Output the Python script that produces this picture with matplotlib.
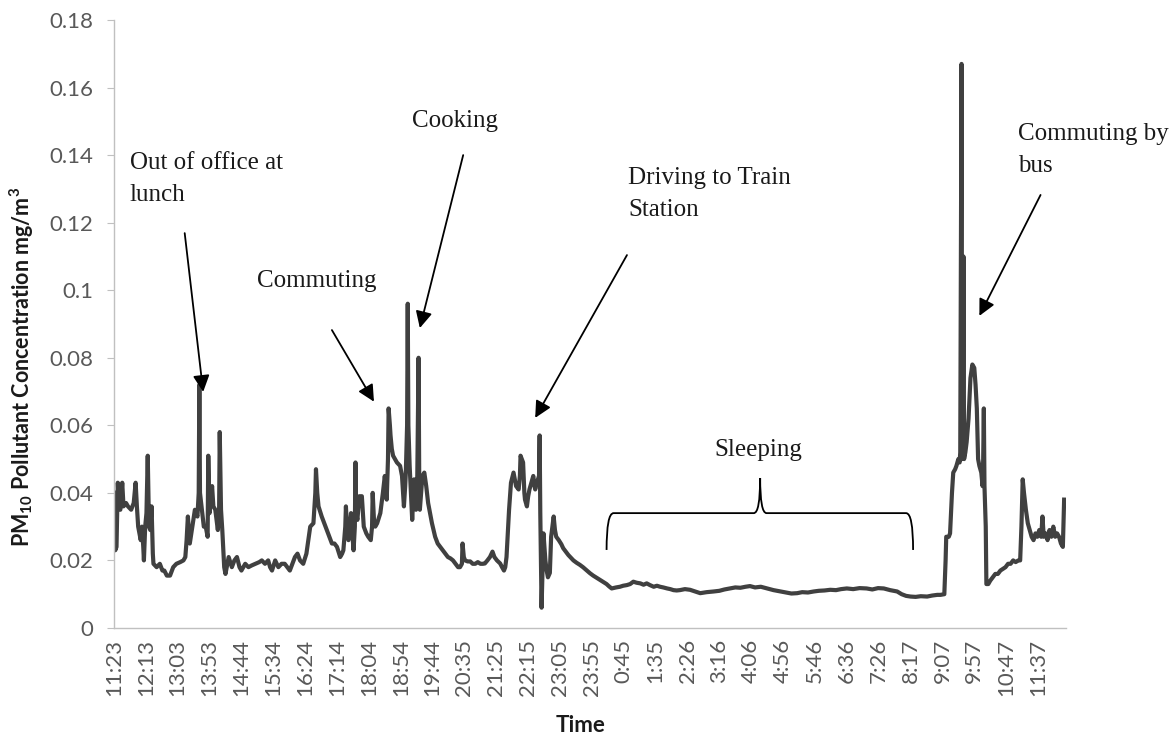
import matplotlib
matplotlib.use("Agg")
import matplotlib.pyplot as plt
from matplotlib.path import Path
from matplotlib.patches import PathPatch

# sample index (one reading ~ every minute from 11:23) and PM10 readings in mg/m3
minute_idx = [
    0, 2, 4, 6, 8, 10, 13, 15, 19, 22, 27, 31, 34, 36, 38, 42, 44, 46, 47, 49,
    51, 53, 55, 57, 59, 61, 62, 67, 72, 76, 79, 83, 88, 93, 98, 104, 109, 112, 114, 116,
    119, 123, 127, 131, 133, 134, 135, 138, 141, 144, 147, 148, 150, 154, 156, 159, 163, 165, 166, 168,
    170, 173, 175, 180, 185, 189, 193, 197, 200, 206, 211, 216, 222, 228, 232, 237, 242, 245, 248, 253,
    258, 263, 268, 272, 276, 280, 284, 288, 292, 297,
    302, 305, 308, 313, 316, 317, 319, 321, 326, 330, 334, 338, 342, 346, 350, 355, 358, 360, 363, 364,
    366, 368, 370, 372, 374, 376, 378, 379, 380, 382, 385, 389, 392, 396, 399, 403, 405, 406, 408, 410,
    413, 418, 422, 425, 428, 430, 431, 433, 434, 436, 438, 444, 449, 452, 455, 457, 458, 460, 461, 462,
    464, 466, 468, 470, 471, 473, 474, 476, 478, 479, 480, 482, 484, 487, 490, 493, 496, 499, 504, 508,
    512, 516, 520, 524, 528, 532, 536, 540, 543, 546, 547, 549, 551, 555, 559, 563, 567, 571, 575, 579,
    582, 586, 590, 594, 597, 601, 606, 609, 612, 614, 616, 618, 620, 623, 627, 629, 631, 635, 637, 638,
    640, 642, 644, 645, 648, 650, 652, 656, 658, 660, 661, 665, 667, 668, 669, 671, 674, 677, 679, 681,
    684, 686, 690, 692, 694, 698, 702, 705, 709, 713, 717, 721, 726, 731, 736, 742, 747, 752, 758, 763,
    768, 773, 777, 781, 788, 794, 799, 805, 810, 815, 820, 826, 831, 836, 841, 847, 852, 857, 862, 868,
    873, 878, 883, 888,
    896, 904, 912, 920, 930, 941, 950, 958, 967, 975, 983, 991, 998, 1006, 1015, 1025, 1035, 1046, 1055, 1063,
    1072, 1080, 1089, 1098, 1106, 1115, 1124, 1133, 1141, 1150, 1160, 1170, 1181, 1190, 1199, 1208, 1218, 1229, 1236, 1243,
    1250, 1258, 1266, 1276, 1284, 1292,
    1297, 1303, 1305, 1306, 1310, 1312, 1315, 1317, 1320, 1322, 1325, 1327, 1328, 1329, 1330, 1331, 1332, 1333, 1334, 1336,
    1338, 1341, 1344, 1347, 1350, 1352, 1354, 1356, 1358, 1361, 1363, 1364, 1365, 1366, 1368, 1369, 1372, 1375, 1379, 1383,
    1387, 1391, 1395, 1399, 1403, 1407, 1411, 1415, 1419, 1422, 1424, 1426, 1428, 1431, 1434, 1437, 1440, 1443, 1446, 1449,
    1452, 1455, 1457, 1459, 1462, 1465, 1468, 1471, 1474, 1477, 1480, 1483, 1486, 1489, 1491,
]

pm10 = [
    0.040, 0.023, 0.024, 0.043, 0.036, 0.035, 0.043, 0.036, 0.037, 0.036, 0.035, 0.037, 0.043, 0.036, 0.030, 0.026, 0.030, 0.024, 0.020, 0.030,
    0.034, 0.051, 0.030, 0.029, 0.036, 0.022, 0.019, 0.018, 0.019, 0.017, 0.017, 0.0155, 0.0155, 0.018, 0.019, 0.0195, 0.020, 0.021, 0.026, 0.033,
    0.025, 0.030, 0.035, 0.033, 0.040, 0.072, 0.040, 0.035, 0.030, 0.030, 0.027, 0.051, 0.034, 0.042, 0.036, 0.035, 0.029, 0.035, 0.058, 0.035,
    0.029, 0.018, 0.016, 0.021, 0.018, 0.020, 0.021, 0.018, 0.017, 0.019, 0.018, 0.0185, 0.019, 0.0195, 0.020, 0.019, 0.020, 0.018, 0.017, 0.020,
    0.018, 0.019, 0.019, 0.018, 0.017, 0.019, 0.021, 0.022, 0.020, 0.019,
    0.022, 0.026, 0.030, 0.031, 0.040, 0.047, 0.040, 0.036, 0.033, 0.031, 0.029, 0.027, 0.025, 0.025, 0.024, 0.021, 0.022, 0.023, 0.030, 0.036,
    0.028, 0.026, 0.030, 0.034, 0.028, 0.023, 0.030, 0.049, 0.034, 0.032, 0.039, 0.039, 0.030, 0.028, 0.027, 0.026, 0.030, 0.040, 0.032, 0.030,
    0.031, 0.034, 0.040, 0.045, 0.038, 0.050, 0.065, 0.060, 0.057, 0.053, 0.051, 0.049, 0.048, 0.045, 0.036, 0.042, 0.046, 0.060, 0.096, 0.060,
    0.048, 0.040, 0.032, 0.040, 0.044, 0.040, 0.035, 0.045, 0.080, 0.045, 0.035, 0.040, 0.045, 0.046, 0.042, 0.037, 0.034, 0.031, 0.027, 0.025,
    0.024, 0.023, 0.022, 0.021, 0.0206, 0.020, 0.019, 0.018, 0.018, 0.019, 0.025, 0.021, 0.020, 0.0197, 0.0197, 0.019, 0.019, 0.0195, 0.019, 0.019,
    0.0191, 0.020, 0.021, 0.0226, 0.021, 0.020, 0.0191, 0.018, 0.017, 0.018, 0.021, 0.028, 0.035, 0.043, 0.046, 0.044, 0.042, 0.041, 0.045, 0.051,
    0.050, 0.049, 0.040, 0.038, 0.036, 0.039, 0.041, 0.0437, 0.045, 0.042, 0.041, 0.0438, 0.045, 0.057, 0.034, 0.006, 0.028, 0.020, 0.017, 0.015,
    0.0163, 0.027, 0.033, 0.029, 0.027, 0.026, 0.0248, 0.0236, 0.0226, 0.0216, 0.0208, 0.020, 0.0193, 0.0187, 0.018, 0.017, 0.0162, 0.0155, 0.0148, 0.0142,
    0.0136, 0.013, 0.0123, 0.0117, 0.012, 0.0122, 0.0125, 0.0127, 0.013, 0.0137, 0.0134, 0.0132, 0.0128, 0.0132, 0.0127, 0.0122, 0.0125, 0.0122, 0.012, 0.0117,
    0.0115, 0.0112, 0.0111, 0.0112,
    0.0115, 0.0113, 0.0108, 0.0103, 0.0106, 0.0108, 0.011, 0.0114, 0.0117, 0.012, 0.0119, 0.0122, 0.0124, 0.012, 0.0122, 0.0117, 0.0112, 0.0108, 0.0105, 0.0102,
    0.0103, 0.0106, 0.0105, 0.0108, 0.011, 0.0111, 0.0113, 0.0112, 0.0115, 0.0117, 0.0115, 0.0118, 0.0117, 0.0114, 0.0118, 0.0117, 0.0112, 0.0108, 0.010, 0.0095,
    0.0093, 0.0092, 0.0094, 0.0093, 0.0096, 0.0098,
    0.0098, 0.010, 0.020, 0.027, 0.027, 0.028, 0.040, 0.046, 0.047, 0.048, 0.050, 0.049, 0.052, 0.110, 0.167, 0.050, 0.060, 0.110, 0.050, 0.052,
    0.055, 0.062, 0.074, 0.078, 0.077, 0.072, 0.065, 0.050, 0.048, 0.046, 0.042, 0.050, 0.065, 0.042, 0.030, 0.013, 0.013, 0.014, 0.015, 0.016,
    0.016, 0.017, 0.0175, 0.018, 0.019, 0.019, 0.020, 0.0195, 0.020, 0.020, 0.030, 0.044, 0.040, 0.035, 0.031, 0.029, 0.027, 0.026, 0.028, 0.027,
    0.029, 0.027, 0.033, 0.027, 0.028, 0.026, 0.029, 0.027, 0.030, 0.027, 0.028, 0.027, 0.025, 0.024, 0.038,
]

tick_labels = [
    "11:23", "12:13", "13:03", "13:53", "14:44", "15:34", "16:24", "17:14", "18:04", "18:54",
    "19:44", "20:35", "21:25", "22:15", "23:05", "23:55", "0:45", "1:35", "2:26", "3:16",
    "4:06", "4:56", "5:46", "6:36", "7:26", "8:17", "9:07", "9:57", "10:47", "11:37",
]
tick_pos = [50 * i for i in range(len(tick_labels))]
y_ticks = [0, 0.02, 0.04, 0.06, 0.08, 0.1, 0.12, 0.14, 0.16, 0.18]

plt.rcParams["font.family"] = ["Lato", "DejaVu Sans"]
plt.rcParams["mathtext.fontset"] = "custom"
plt.rcParams["mathtext.rm"] = "Lato:bold"

fig = plt.figure(figsize=(11.76, 7.38), dpi=100)
ax = fig.add_axes([0.0969, 0.1491, 0.8096, 0.8238])

ax.plot(minute_idx, pm10, color="#404040", lw=3.0, solid_joinstyle="round")

ax.set_xlim(0, 1494)
ax.set_ylim(0, 0.18)
ax.set_yticks(y_ticks)
ax.set_yticklabels([f"{v:g}" for v in y_ticks])
ax.set_xticks(tick_pos)
ax.set_xticklabels(tick_labels, rotation=90)

for side in ("top", "right"):
    ax.spines[side].set_visible(False)
for side in ("left", "bottom"):
    ax.spines[side].set_color("#c0c0c0")
    ax.spines[side].set_linewidth(1.0)
ax.tick_params(axis="y", length=5, color="#c0c0c0", labelsize=16, labelcolor="#595959", pad=10)
ax.tick_params(axis="x", length=0, labelsize=16, labelcolor="#595959", pad=8)

fig.text(0.019, 0.503, r"PM$_{10}$ Pollutant Concentration mg/m$^{3}$", rotation=90,
         ha="center", va="center", fontsize=15.5, fontweight="bold", color="#1a1a1a")
fig.text(0.494, 0.0176, "Time", ha="center", va="center", fontsize=16, fontweight="bold", color="#1a1a1a")

# annotations (serif, like the original)
serif = "Liberation Serif"
arrow = dict(arrowstyle="-|>,head_length=0.5,head_width=0.25", mutation_scale=20,
             lw=1.3, color="black", shrinkA=0, shrinkB=0)
notes = [
    ("Out of office at\nlunch", (25, 0.1329), (111, 0.1169), (140, 0.0699)),
    ("Commuting", (225, 0.1027), (342, 0.0882), (408, 0.0670)),
    ("Cooking", (468, 0.1501), (548, 0.1400), (480, 0.0888)),
    ("Driving to Train\nStation", (807, 0.1285), (805, 0.1104), (661, 0.0622)),
    ("Commuting by\nbus", (1418, 0.1415), (1454, 0.1282), (1358, 0.0924)),
]
for text, text_xy, start, tip in notes:
    ax.text(text_xy[0], text_xy[1], text, family=serif, fontsize=18, color="#1a1a1a",
            ha="left", va="center", linespacing=1.55, clip_on=False)
    ax.annotate("", xy=tip, xytext=start, arrowprops=arrow, annotation_clip=False)

ax.text(1011, 0.0527, "Sleeping", family=serif, fontsize=18, color="#1a1a1a", ha="center", va="center")

# curly brace over the sleeping period
x0, xc, x1 = 773, 1014, 1254
y_bot, y_mid, y_tip = 0.0231, 0.0340, 0.0444
r, rc = 11, 10
verts = [
    (x0, y_bot), (x0, y_mid), (x0 + r, y_mid),
    (xc - rc, y_mid),
    (xc, y_mid), (xc, y_tip),
    (xc, y_mid), (xc + rc, y_mid),
    (x1 - r, y_mid),
    (x1, y_mid), (x1, y_bot),
]
codes = [
    Path.MOVETO, Path.CURVE3, Path.CURVE3,
    Path.LINETO,
    Path.CURVE3, Path.CURVE3,
    Path.CURVE3, Path.CURVE3,
    Path.LINETO,
    Path.CURVE3, Path.CURVE3,
]
ax.add_patch(PathPatch(Path(verts, codes), fill=False, lw=1.3, edgecolor="black"))

fig.savefig("out.png", dpi=100, facecolor="white")
